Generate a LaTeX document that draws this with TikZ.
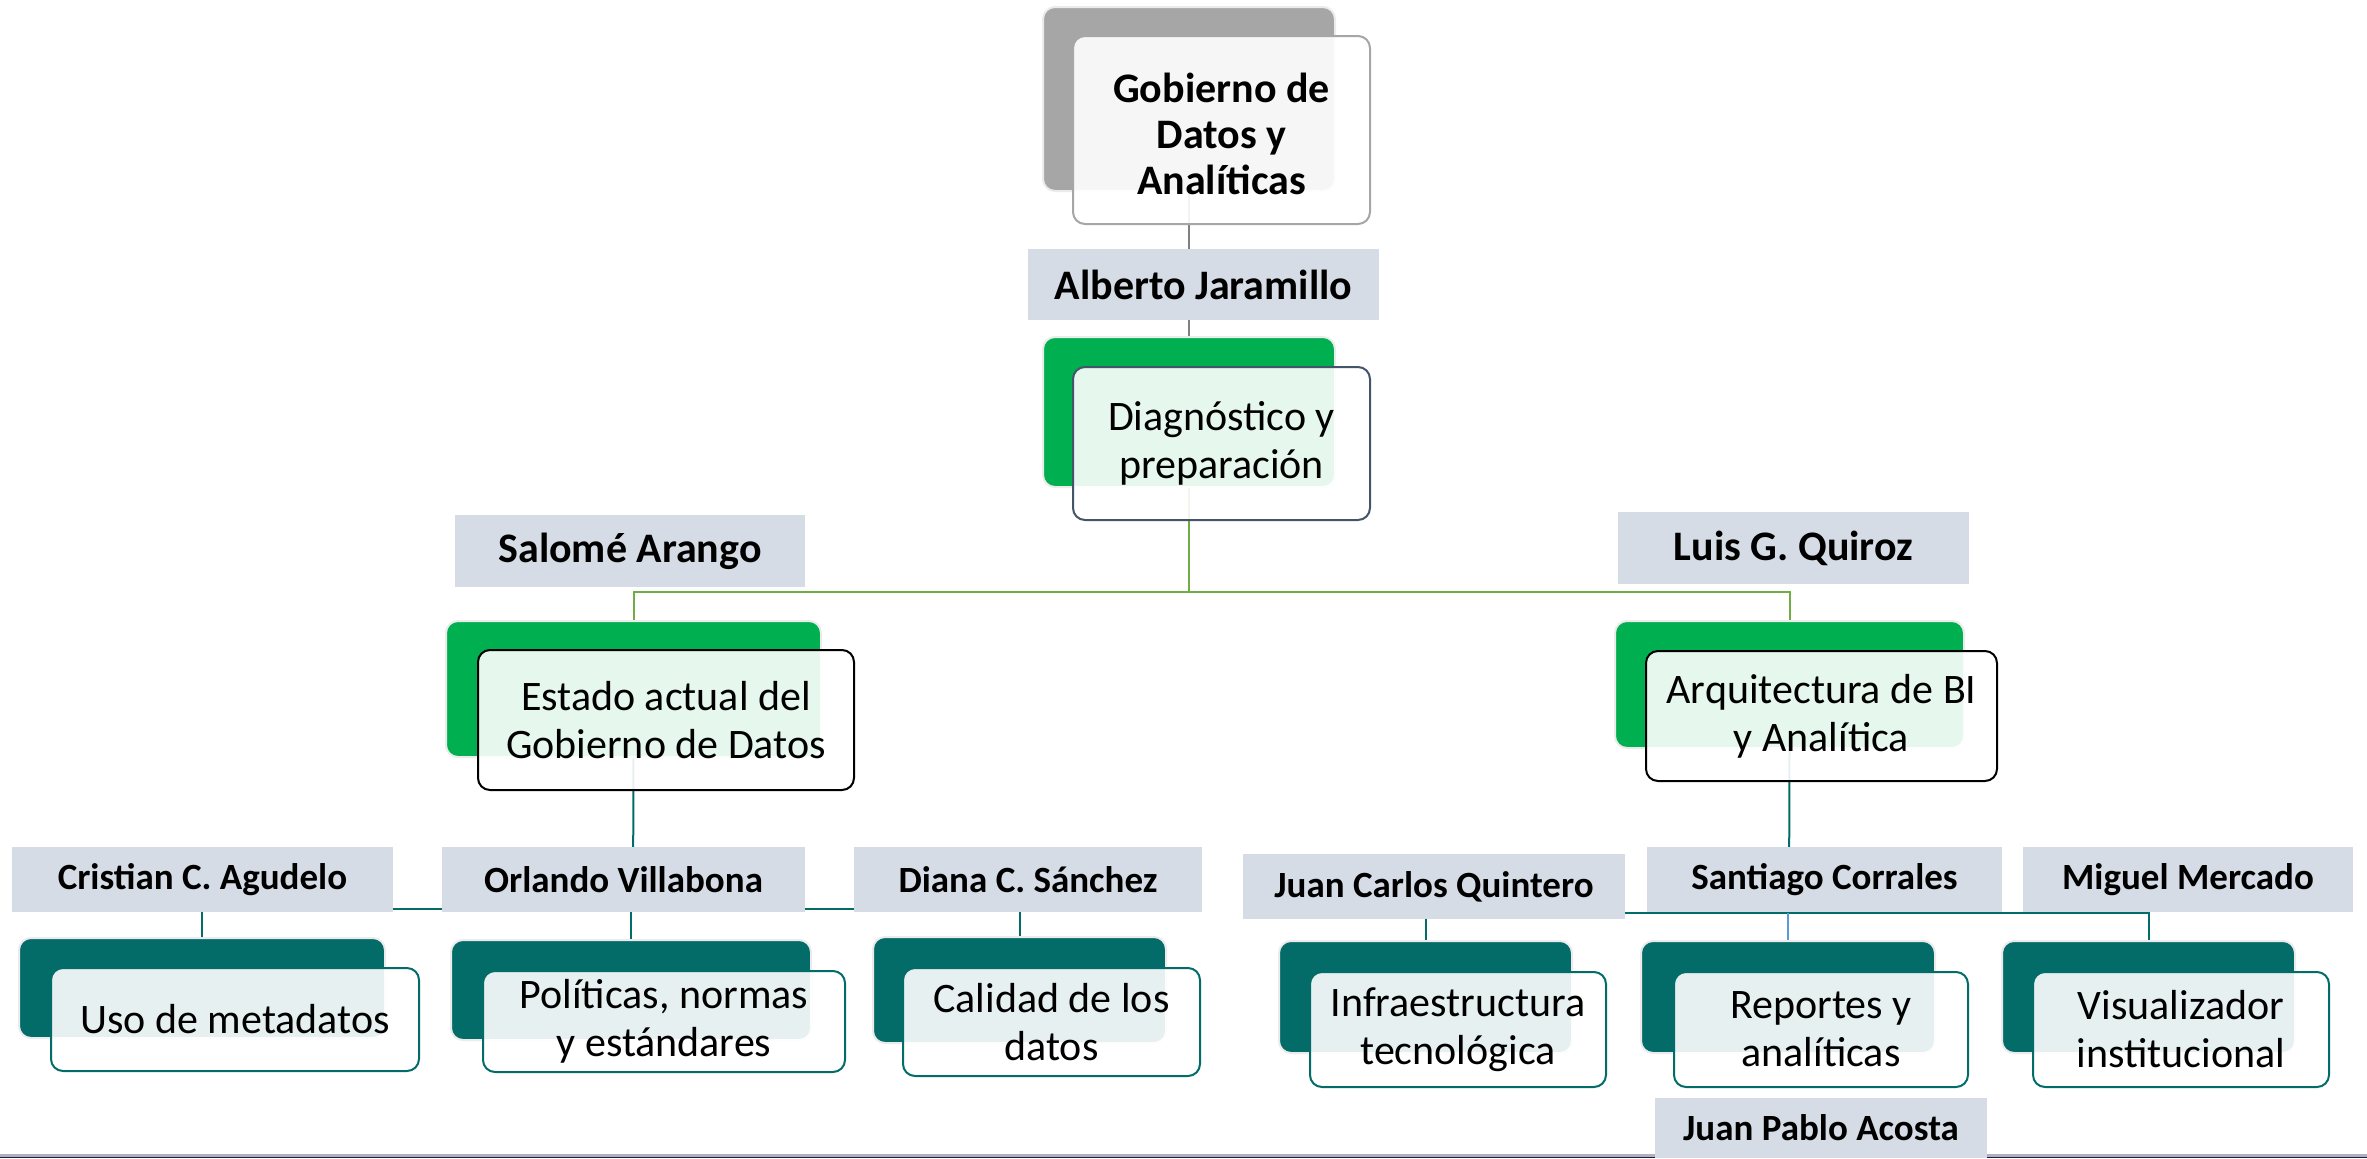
\documentclass[tikz,border=0pt]{standalone}
\usepackage{fontspec}
\setmainfont{Carlito}
\usetikzlibrary{fit}
\definecolor{cgray}{HTML}{A6A6A6}
\definecolor{cgreen}{HTML}{00B050}
\definecolor{cteal}{HTML}{036C69}
\definecolor{clab}{HTML}{D6DCE5}
\definecolor{cslate}{HTML}{44546A}
\definecolor{cgline}{HTML}{70AD47}
\definecolor{ctline}{HTML}{808080}
\definecolor{cblue}{HTML}{5B9BD5}
\definecolor{cbot}{HTML}{B0B0C0}
\definecolor{cnavy}{HTML}{1F1F3A}
\tikzset{
  backbox/.style={rounded corners=6pt, draw=black!8, line width=1pt, inner sep=0pt},
  frontbox/.style={rounded corners=6pt, fill=white, fill opacity=0.9, line width=1pt, inner sep=0pt},
  bodytext/.style={inner sep=0pt, align=center, font=\fontsize{21}{24}\selectfont},
  toptext/.style={inner sep=0pt, align=center, font=\bfseries\fontsize{21}{23}\selectfont},
  labbox/.style={fill=clab, inner sep=0pt},
  toplab/.style={inner sep=0pt, font=\bfseries\fontsize{21}{24}\selectfont},
  botlab/.style={inner sep=0pt, font=\bfseries\fontsize{18.5}{22}\selectfont},
  conn/.style={line width=1pt}
}
\begin{document}
\begin{tikzpicture}[x=0.5pt,y=-0.5pt]
\useasboundingbox (0,0) rectangle (2367,1158);
% bottom rule
\draw[cbot, line width=1.5pt] (0,1155.5) -- (2367,1155.5);
\draw[cnavy, line width=0.5pt] (0,1157.7) -- (2367,1157.7);
% junctions
\coordinate (jd) at (1189,592);
\coordinate (je) at (633,909);
\coordinate (ja) at (1789,913);
% back box corners
\path (1043,7) coordinate (g0a) (1335,191) coordinate (g0b);
\path (1043,337) coordinate (d0a) (1335,487) coordinate (d0b);
\path (446,621) coordinate (e0a) (821,757) coordinate (e0b);
\path (1615,621) coordinate (a0a) (1964,748) coordinate (a0b);
\path (19,938) coordinate (c0a) (385,1038) coordinate (c0b);
\path (451,940) coordinate (o0a) (811,1040) coordinate (o0b);
\path (873,937) coordinate (di0a) (1166,1043) coordinate (di0b);
\path (1279,941) coordinate (jc0a) (1572,1053) coordinate (jc0b);
\path (1641,941) coordinate (s0a) (1935,1053) coordinate (s0b);
\path (2002,941) coordinate (m0a) (2295,1053) coordinate (m0b);
% anchor nodes
\node[inner sep=0pt, fit=(g0a)(g0b)] (g0) {};
\node[inner sep=0pt, fit=(d0a)(d0b)] (d0) {};
\node[inner sep=0pt, fit=(e0a)(e0b)] (e0) {};
\node[inner sep=0pt, fit=(a0a)(a0b)] (a0) {};
\node[inner sep=0pt, fit=(c0a)(c0b)] (c0) {};
\node[inner sep=0pt, fit=(o0a)(o0b)] (o0) {};
\node[inner sep=0pt, fit=(di0a)(di0b)] (di0) {};
\node[inner sep=0pt, fit=(jc0a)(jc0b)] (jc0) {};
\node[inner sep=0pt, fit=(s0a)(s0b)] (s0) {};
\node[inner sep=0pt, fit=(m0a)(m0b)] (m0) {};
% connectors
\draw[conn, ctline] (g0.south) -- (d0.north);
\draw[conn, cgline] (d0.south) -- (jd);
\draw[conn, cgline] (e0.north) |- (jd) -| (a0.north);
\draw[conn, cteal] (e0.south) -- (je);
\draw[conn, cteal] (c0.north) |- (je) -| (di0.north);
\draw[conn, cteal] (o0.north) -- (o0.north |- je);
\draw[conn, cteal] (a0.south) -- (ja);
\draw[conn, cteal] (jc0.north) |- (ja) -| (m0.north);
\draw[conn, cblue] (s0.north) -- (s0.north |- ja);
% colored back boxes
\node[backbox, fill=cgray, fit=(g0a)(g0b)] (g0f) {};
\node[backbox, fill=cgreen, fit=(d0a)(d0b)] (d0f) {};
\node[backbox, fill=cgreen, fit=(e0a)(e0b)] (e0f) {};
\node[backbox, fill=cgreen, fit=(a0a)(a0b)] (a0f) {};
\node[backbox, fill=cteal, fit=(c0a)(c0b)] (c0f) {};
\node[backbox, fill=cteal, fit=(o0a)(o0b)] (o0f) {};
\node[backbox, fill=cteal, fit=(di0a)(di0b)] (di0f) {};
\node[backbox, fill=cteal, fit=(jc0a)(jc0b)] (jc0f) {};
\node[backbox, fill=cteal, fit=(s0a)(s0b)] (s0f) {};
\node[backbox, fill=cteal, fit=(m0a)(m0b)] (m0f) {};
% front boxes
\path (1073,36) coordinate (g1a) (1370,224) coordinate (g1b);
\node[frontbox, draw=cgray, fit=(g1a)(g1b)] (g1) {};
\node[toptext] (g1t) at ([yshift=-2pt]g1.center) {Gobierno de\\Datos y\\Analíticas};
\path (1073,367) coordinate (d1a) (1370,520) coordinate (d1b);
\node[frontbox, draw=cslate, fit=(d1a)(d1b)] (d1) {};
\node[bodytext] (d1t) at (d1.center) {Diagnóstico y\\preparación};
\path (478,650) coordinate (e1a) (854,790) coordinate (e1b);
\node[frontbox, draw=black, fit=(e1a)(e1b)] (e1) {};
\node[bodytext] (e1t) at (e1.center) {Estado actual del\\Gobierno de Datos};
\path (1646,651) coordinate (a1a) (1997,781) coordinate (a1b);
\node[frontbox, draw=black, fit=(a1a)(a1b)] (a1) {};
\node[bodytext] (a1t) at (a1.center) {Arquitectura de BI\\y Analítica};
\path (51,968) coordinate (c1a) (419,1071) coordinate (c1b);
\node[frontbox, draw=cteal, fit=(c1a)(c1b)] (c1) {};
\node[bodytext] (c1t) at (c1.center) {Uso de metadatos};
\path (483,971) coordinate (o1a) (845,1072) coordinate (o1b);
\node[frontbox, draw=cteal, fit=(o1a)(o1b)] (o1) {};
\node[bodytext] (o1t) at (o1.center) {Políticas, normas\\y estándares};
\path (903,968) coordinate (di1a) (1200,1076) coordinate (di1b);
\node[frontbox, draw=cteal, fit=(di1a)(di1b)] (di1) {};
\node[bodytext] (di1t) at (di1.center) {Calidad de los\\datos};
\path (1310,972) coordinate (jc1a) (1606,1087) coordinate (jc1b);
\node[frontbox, draw=cteal, fit=(jc1a)(jc1b)] (jc1) {};
\node[bodytext] (jc1t) at (jc1.center) {Infraestructura\\tecnológica};
\path (1674,972) coordinate (s1a) (1968,1087) coordinate (s1b);
\node[frontbox, draw=cteal, fit=(s1a)(s1b)] (s1) {};
\node[bodytext] (s1t) at (s1.center) {Reportes y\\analíticas};
\path (2033,972) coordinate (m1a) (2329,1087) coordinate (m1b);
\node[frontbox, draw=cteal, fit=(m1a)(m1b)] (m1) {};
\node[bodytext] (m1t) at (m1.center) {Visualizador\\institucional};
% name labels
\path (1028,249) coordinate (l1a) (1379,320) coordinate (l1b);
\node[labbox, fit=(l1a)(l1b)] (lab1) {};
\node[toplab] (lab1t) at (lab1.center) {Alberto Jaramillo};
\path (455,515) coordinate (l2a) (805,587) coordinate (l2b);
\node[labbox, fit=(l2a)(l2b)] (lab2) {};
\node[toplab] (lab2t) at (lab2.center) {Salomé Arango};
\path (1618,512) coordinate (l3a) (1969,584) coordinate (l3b);
\node[labbox, fit=(l3a)(l3b)] (lab3) {};
\node[toplab] (lab3t) at (lab3.center) {Luis G. Quiroz};
\path (12,847) coordinate (l4a) (393,912) coordinate (l4b);
\node[labbox, fit=(l4a)(l4b)] (lab4) {};
\node[botlab] (lab4t) at (lab4.center) {Cristian C. Agudelo};
\path (442,847) coordinate (l5a) (805,912) coordinate (l5b);
\node[labbox, fit=(l5a)(l5b)] (lab5) {};
\node[botlab] (lab5t) at (lab5.center) {Orlando Villabona};
\path (854,847) coordinate (l6a) (1202,912) coordinate (l6b);
\node[labbox, fit=(l6a)(l6b)] (lab6) {};
\node[botlab] (lab6t) at (lab6.center) {Diana C. Sánchez};
\path (1243,854) coordinate (l7a) (1625,919) coordinate (l7b);
\node[labbox, fit=(l7a)(l7b)] (lab7) {};
\node[botlab] (lab7t) at (lab7.center) {Juan Carlos Quintero};
\path (1647,847) coordinate (l8a) (2002,912) coordinate (l8b);
\node[labbox, fit=(l8a)(l8b)] (lab8) {};
\node[botlab] (lab8t) at (lab8.center) {Santiago Corrales};
\path (2023,847) coordinate (l9a) (2353,912) coordinate (l9b);
\node[labbox, fit=(l9a)(l9b)] (lab9) {};
\node[botlab] (lab9t) at (lab9.center) {Miguel Mercado};
\path (1655,1098) coordinate (l10a) (1987,1158) coordinate (l10b);
\node[labbox, fit=(l10a)(l10b)] (lab10) {};
\node[botlab] (lab10t) at (lab10.center) {Juan Pablo Acosta};
\end{tikzpicture}
\end{document}
